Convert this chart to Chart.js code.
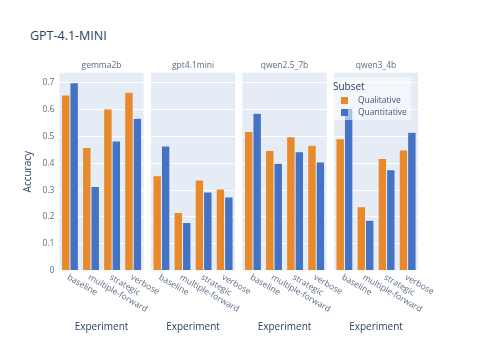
<!DOCTYPE html>
<html>
<head>
<meta charset="utf-8">
<script src="https://cdn.jsdelivr.net/npm/chart.js@4"></script>
<style>
  body { margin: 0; background: #fff; font-family: "Open Sans", sans-serif; }
  #wrap { position: relative; width: 478px; height: 342px; }
  #wrap canvas { position: absolute; left: 0; top: 0; }
  #title { position: absolute; left: 30px; top: 29px; font-size: 12.5px; line-height: 14px; color: #2a3f5f; }
  #legend { position: absolute; left: 331px; top: 77px; width: 80px; height: 43px; background: rgba(255,255,255,0.55); color: #2a3f5f; }
  #legend .head { position: absolute; left: 2px; top: 2px; font-size: 10px; line-height: 14px; }
  #legend .item { position: absolute; left: 10px; font-size: 8.5px; line-height: 10px; color: #44557a; }
  #legend .sw { display: inline-block; width: 7px; height: 7px; margin-right: 10px; vertical-align: -1px; }
</style>
</head>
<body>
<div id="wrap">
  <div id="title">GPT-4.1-MINI</div>
  <canvas id="c0" width="478" height="342"></canvas>
  <canvas id="c1" width="478" height="342"></canvas>
  <canvas id="c2" width="478" height="342"></canvas>
  <canvas id="c3" width="478" height="342"></canvas>
  <div id="legend"></div>
</div>
<script>
const experiments = ["baseline", "multiple-forward", "strategic", "verbose"];
const models = ["gemma2b", "gpt4.1mini", "qwen2.5_7b", "qwen3_4b"];
const seriesNames = ["Qualitative", "Quantitative"];
const seriesColors = ["#E8892B", "#4472C4"];

// accuracy per experiment, one array per model and subset
const qualGemma = [0.654, 0.459, 0.602, 0.664];
const quantGemma = [0.700, 0.313, 0.483, 0.567];
const qualGpt = [0.353, 0.217, 0.338, 0.304];
const quantGpt = [0.464, 0.179, 0.293, 0.274];
const qualQwen25 = [0.518, 0.447, 0.499, 0.467];
const quantQwen25 = [0.586, 0.400, 0.443, 0.405];
const qualQwen3 = [0.491, 0.238, 0.418, 0.449];
const quantQwen3 = [0.605, 0.188, 0.376, 0.515];

const yTicks = [0, 0.1, 0.2, 0.3, 0.4, 0.5, 0.6, 0.7];
const yMax = 0.737;

const panelData = [
  [qualGemma, quantGemma],
  [qualGpt, quantGpt],
  [qualQwen25, quantQwen25],
  [qualQwen3, quantQwen3],
];

Chart.defaults.font.family = '"Open Sans", sans-serif';

const panelLeft = [59.4, 150.9, 242.4, 333.9];
const panelWidth = 84.3;

const panelDeco = {
  id: "panelDeco",
  beforeDraw(chart) {
    const a = chart.chartArea, ctx = chart.ctx;
    ctx.save();
    ctx.fillStyle = "#E5ECF6";
    ctx.fillRect(a.left, a.top, a.right - a.left, a.bottom - a.top);
    ctx.restore();
  },
  afterDraw(chart, args, opts) {
    const a = chart.chartArea, ctx = chart.ctx, x = chart.scales.x;
    ctx.save();
    ctx.fillStyle = "#5d6b86";
    ctx.font = '8.5px "Open Sans"';
    ctx.textAlign = "center";
    ctx.textBaseline = "middle";
    ctx.fillText(opts.title, (a.left + a.right) / 2, a.top - 7);
    // tick labels slanted downwards like the original
    ctx.fillStyle = "#5d6b86";
    ctx.textAlign = "left";
    chart.data.labels.forEach((lab, i) => {
      ctx.save();
      ctx.translate(x.getPixelForTick(i) - 2, a.bottom + 6);
      ctx.rotate(Math.PI / 6);
      ctx.fillText(lab, 0, 0);
      ctx.restore();
    });
    ctx.restore();
  },
};

panelData.forEach((d, i) => {
  const first = i === 0;
  new Chart(document.getElementById("c" + i), {
    type: "bar",
    data: {
      labels: experiments,
      datasets: d.map((vals, k) => ({
        label: seriesNames[k],
        data: vals,
        backgroundColor: seriesColors[k],
        borderColor: "#E5ECF6",
        borderWidth: 0.5,
        categoryPercentage: 0.8,
        barPercentage: 1,
      })),
    },
    plugins: [panelDeco],
    options: {
      responsive: false,
      animation: false,
      devicePixelRatio: 1,
      layout: {
        padding: {
          left: first ? 18 : panelLeft[i],
          right: 478 - panelLeft[i] - panelWidth,
          top: 72.7,
          bottom: 5,
        },
      },
      plugins: {
        legend: { display: false },
        tooltip: { enabled: false },
        panelDeco: { title: models[i] },
      },
      scales: {
        x: {
          grid: { display: false },
          border: { display: false },
          ticks: { display: false },
          title: {
            display: true,
            text: "Experiment",
            color: "#2a3f5f",
            font: { size: 10 },
            padding: { top: 4, bottom: 4 },
          },
          afterFit: (s) => { s.height = 66.3; },
        },
        y: {
          min: 0,
          max: yMax,
          afterBuildTicks: (s) => { s.ticks = yTicks.map((v) => ({ value: v })); },
          grid: { color: "#ffffff", lineWidth: 1, drawTicks: false },
          border: { display: false },
          ticks: { display: first, padding: 5, color: "#5d6b86", font: { size: 8.5 } },
          title: {
            display: first,
            text: "Accuracy",
            color: "#2a3f5f",
            font: { size: 10 },
            padding: { top: 4, bottom: 4 },
          },
          afterFit: (s) => { s.width = first ? 41.4 : 0; },
        },
      },
    },
  });
});

// legend box drawn over the last panel
const legend = document.getElementById("legend");
legend.innerHTML = '<div class="head">Subset</div>' +
  seriesNames.map((n, k) =>
    '<div class="item" style="top:' + (18 + k * 12.3) + 'px"><span class="sw" style="background:' +
    seriesColors[k] + '"></span>' + n + "</div>").join("");
</script>
</body>
</html>
